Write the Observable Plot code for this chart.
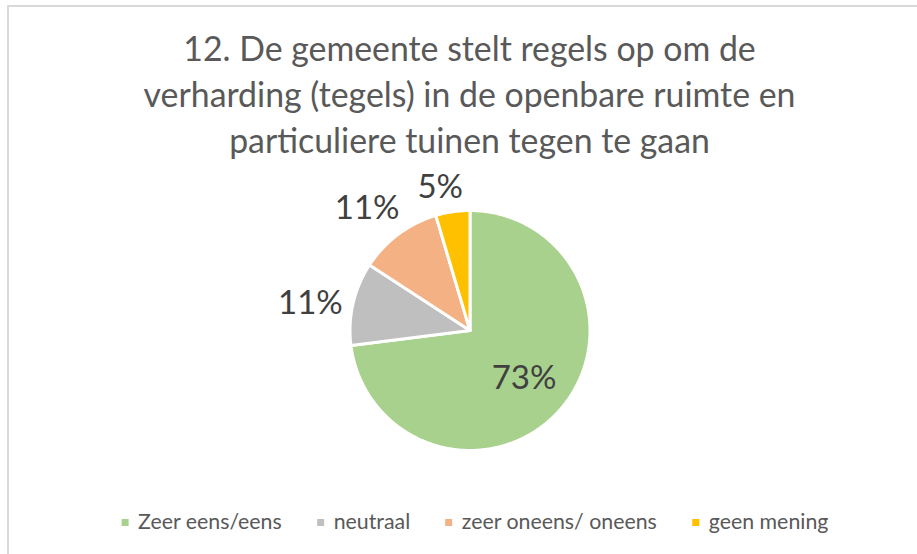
<!DOCTYPE html>
<html><head><meta charset="utf-8">
<script src="https://cdn.jsdelivr.net/npm/d3@7"></script>
<script src="https://cdn.jsdelivr.net/npm/@observablehq/plot@0.6"></script>
<style>
html,body{margin:0;padding:0;background:#fff;overflow:hidden;width:917px;height:554px}
#wrap{position:relative;width:917px;height:554px;overflow:hidden}
#border{position:absolute;left:7px;top:5px;width:1000px;height:1000px;border:2px solid #d9d9d9;box-sizing:border-box}
#chart{position:absolute;left:0;top:0}
</style></head><body>
<div id="wrap"><div id="border"></div><div id="chart"></div></div>
<script>
const titleLines = [
  "12. De gemeente stelt regels op om de",
  "verharding (tegels) in de openbare ruimte en",
  "particuliere tuinen tegen te gaan"
];
const categories = ["Zeer eens/eens", "neutraal", "zeer oneens/ oneens", "geen mening"];
const values = [73, 11.2, 11.2, 4.6];
const colors = ["#A9D18E", "#BFBFBF", "#F4B183", "#FFC000"];

const FONT = "Lato, 'Open Sans', sans-serif";
const ctx = document.createElement("canvas").getContext("2d");
function textWidth(s, size) { ctx.font = `${size}px Lato`; return ctx.measureText(s).width; }
function fit(s, target) { return 100 * target / textWidth(s, 100); }

const W = 917, H = 554, cx = 469.5, cy = 330, R = 120;
const titleSize = fit(titleLines[1], 652);
const labelSize = 33;
const legendSize = 100 * 536 / d3.sum(categories, c => textWidth(c, 100));

const total = d3.sum(values);
const pie = d3.pie().sort(null).value(d => d)(values);

const slicePts = [];
pie.forEach((p, i) => {
  const n = Math.max(2, Math.ceil((p.endAngle - p.startAngle) / 0.01));
  slicePts.push({cat: categories[i], x: cx, y: cy});
  for (let k = 0; k <= n; k++) {
    const a = p.startAngle + (p.endAngle - p.startAngle) * k / n;
    slicePts.push({cat: categories[i], x: cx + R * Math.sin(a), y: cy - R * Math.cos(a)});
  }
  slicePts.push({cat: categories[i], x: cx, y: cy});
});

const labelShift = -3.5 * Math.PI / 180;
const labels = pie.map((p, i) => {
  const inside = values[i] / total > 0.5;
  const a = (p.startAngle + p.endAngle) / 2 + (inside ? 0 : labelShift);
  const s = Math.sin(a), c = Math.cos(a);
  const text = Math.round(values[i] / total * 100) + "%";
  let d;
  if (inside) d = 0.6 * R;
  else {
    const hw = textWidth(text, labelSize) / 2, hh = 0.43 * labelSize;
    d = R - 1.5 + 9 + Math.abs(s) * hw + Math.abs(c) * hh;
  }
  return {text, x: cx + d * s, y: cy - d * c};
});

const sq = 7, gapIn = 9.5, gapOut = 35, legendY = 522;
const widths = categories.map(c => textWidth(c, legendSize));
const totalW = d3.sum(widths) + categories.length * (sq + gapIn) + (categories.length - 1) * gapOut;
let x0 = 474.5 - totalW / 2;
const legend = categories.map((c, i) => {
  const r = {cat: c, sx: x0 + sq / 2, tx: x0 + sq + gapIn, y: legendY};
  x0 += sq + gapIn + widths[i] + gapOut;
  return r;
});

const chart = Plot.plot({
  width: W, height: H, margin: 0,
  x: {domain: [0, W], range: [0, W], axis: null},
  y: {domain: [0, H], range: [0, H], axis: null},
  color: {domain: categories, range: colors},
  style: {fontFamily: FONT, background: "transparent"},
  marks: [
    Plot.line(slicePts, {x: "x", y: "y", z: "cat", fill: "cat", stroke: "white", strokeWidth: 3, strokeLinejoin: "round"}),
    Plot.text(labels, {x: "x", y: "y", text: "text", fontSize: labelSize, fill: "#404040", textAnchor: "middle", lineAnchor: "middle"}),
    Plot.text([{t: titleLines.join("\n"), x: 469, y: 152}], {x: "x", y: "y", text: "t", fontSize: titleSize, fill: "#595959", textAnchor: "middle", lineAnchor: "bottom", lineHeight: 46 / titleSize}),
    Plot.dot(legend, {x: "sx", y: "y", fill: "cat", symbol: "square", r: sq / Math.sqrt(Math.PI), stroke: null}),
    Plot.text(legend, {x: "tx", y: "y", text: "cat", fontSize: legendSize, fill: "#595959", textAnchor: "start", lineAnchor: "middle"})
  ]
});
document.getElementById("chart").appendChild(chart);
</script>
</body></html>
